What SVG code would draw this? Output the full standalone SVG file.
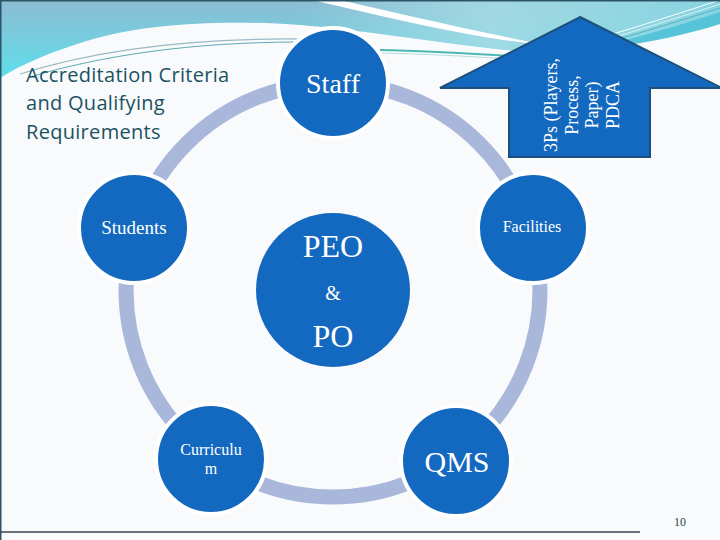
<svg xmlns="http://www.w3.org/2000/svg" width="720" height="540" viewBox="0 0 720 540">
  <defs>
    <linearGradient id="sky" x1="0" y1="0" x2="0" y2="1">
      <stop offset="0" stop-color="#8DBCD2"/>
      <stop offset="1" stop-color="#5EDEEA"/>
    </linearGradient>
    <linearGradient id="skyR" x1="0" y1="0" x2="1" y2="0">
      <stop offset="0" stop-color="#A8DCE4" stop-opacity="0"/>
      <stop offset="0.45" stop-color="#A8DDE5" stop-opacity="0.8"/>
      <stop offset="1" stop-color="#86D6E2" stop-opacity="0.9"/>
    </linearGradient>
    <style>
      .node { fill: #1369BF; stroke: #FFFFFF; stroke-width: 4; }
      .lbl { font-family: "Liberation Serif", "DejaVu Serif", serif; fill: #FFFFFF; text-anchor: middle; }
      .title { font-family: "Open Sans", "DejaVu Sans", sans-serif; font-size: 20px; fill: #1B5262; letter-spacing: 0.3px; }
      .ring { fill: none; stroke: #A9B7DB; stroke-width: 15; }
    </style>
  </defs>

  <!-- background -->
  <rect x="0" y="0" width="720" height="540" fill="#F9FAFB"/>

  <!-- header decoration -->
  <g id="header">
    <path d="M0,0 H720 V22 C680,32 640,44 600,50 C560,55 520,52 480,47 C420,40 360,30 300,25 C230,20 150,22 90,40 C50,52 20,65 0,78 Z" fill="url(#sky)"/>
    <path d="M300,0 H720 V22 C680,32 640,44 600,50 C560,55 520,52 480,47 C420,40 360,30 300,25 Z" fill="url(#skyR)"/>
    <path d="M312,0 L340,0 C400,14 470,30 545,45 C470,38 390,18 312,0 Z" fill="#FFFFFF"/>
    <path d="M610,44 C650,34 690,22 720,12 L720,24 C690,34 650,42 615,47 Z" fill="#55C3D8"/>
    <path d="M600,38 C640,26 690,10 720,0" fill="none" stroke="#FFFFFF" stroke-width="1"/>
    <path d="M605,40 C645,28 690,14 720,4" fill="none" stroke="#E8F7FA" stroke-width="0.8"/>
    <path d="M608,42 C650,30 695,16 720,8" fill="none" stroke="#3FA7C0" stroke-width="0.8"/>
    <path d="M20,74 C90,52 180,38 300,39" fill="none" stroke="#9BBBC6" stroke-width="1.3"/>
    <path d="M30,77 C100,56 190,42 300,42" fill="none" stroke="#5FA9B6" stroke-width="1"/>
    <path d="M380,50 C430,51 480,54 540,58" fill="none" stroke="#4CB8B2" stroke-width="2"/>
    <path d="M380,53 C430,54 480,57 540,61" fill="none" stroke="#B9DCDD" stroke-width="1"/>
  </g>

  <!-- slide frame -->
  <path d="M0.75,540 V0.75 H720" fill="none" stroke="#2D5466" stroke-width="1.5"/>
  <path d="M0,532 H640" fill="none" stroke="#3A4550" stroke-width="1.5"/>

  <!-- title -->
  <g id="title">
    <text class="title" x="26" y="82">Accreditation Criteria</text>
    <text class="title" x="26" y="110">and Qualifying</text>
    <text class="title" x="26" y="139">Requirements</text>
  </g>

  <!-- connectors: the cycle ring -->
  <g id="connectors">
    <circle class="ring" cx="333" cy="290" r="207"/>
  </g>

  <!-- arrow -->
  <g id="arrow">
    <path d="M580,17 L722,88 L650,88 L650,157 L509,157 L509,88 L440,88 Z" fill="#1369BF" stroke="#1D4F7C" stroke-width="2" stroke-linejoin="miter"/>
    <text class="lbl" font-size="18" transform="translate(557,105) rotate(-90)">3Ps (Players,</text>
    <text class="lbl" font-size="18" transform="translate(577.5,105) rotate(-90)">Process,</text>
    <text class="lbl" font-size="18" transform="translate(598,105) rotate(-90)">Paper)</text>
    <text class="lbl" font-size="18" transform="translate(619,105) rotate(-90)">PDCA</text>
  </g>

  <g id="staff">
    <circle class="node" cx="333" cy="83" r="55"/>
    <text class="lbl" x="333" y="93" font-size="28">Staff</text>
  </g>
  <g id="students">
    <circle class="node" cx="134" cy="228" r="55"/>
    <text class="lbl" x="134" y="234" font-size="19">Students</text>
  </g>
  <g id="facilities">
    <circle class="node" cx="533" cy="228" r="55"/>
    <text class="lbl" x="532" y="232" font-size="16">Facilities</text>
  </g>
  <g id="curriculum">
    <circle class="node" cx="211" cy="459" r="55"/>
    <text class="lbl" x="211" y="455" font-size="16">Curriculu</text>
    <text class="lbl" x="211" y="474" font-size="16">m</text>
  </g>
  <g id="qms">
    <circle class="node" cx="456" cy="461" r="55"/>
    <text class="lbl" x="457" y="472" font-size="30">QMS</text>
  </g>
  <g id="peo-po">
    <circle cx="333" cy="290" r="77" fill="#1369BF"/>
    <text class="lbl" x="333" y="257" font-size="32">PEO</text>
    <text class="lbl" x="333" y="300" font-size="20">&amp;</text>
    <text class="lbl" x="333" y="347" font-size="32">PO</text>
  </g>

  <!-- page number -->
  <text x="680" y="526" font-family="Liberation Serif, serif" font-size="12" fill="#1F3F50" text-anchor="middle">10</text>
</svg>
